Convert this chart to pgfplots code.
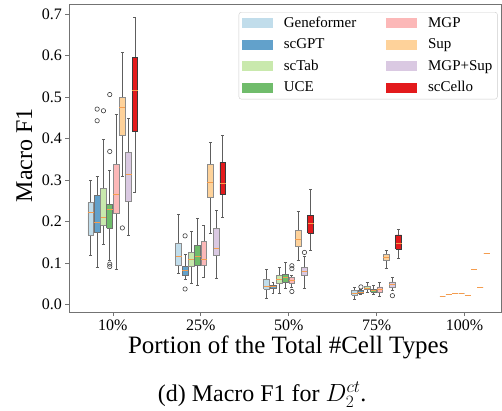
\documentclass[border=0pt]{standalone}
\usepackage{pgfplots}
\pgfplotsset{compat=1.18}
\usepackage{fontspec}
\setmainfont{Liberation Serif}

% Paired colours, alpha 0.7 on white (scCello opaque)
\definecolor{c0}{HTML}{C1DDEB}
\definecolor{c1}{HTML}{62A1CB}
\definecolor{c2}{HTML}{C9E9AD}
\definecolor{c3}{HTML}{70BC6B}
\definecolor{c4}{HTML}{FCB8B8}
\definecolor{c5}{HTML}{FED29A}
\definecolor{c6}{HTML}{DAC9E2}
\definecolor{c7}{HTML}{E31A1C}
\definecolor{e0}{HTML}{8C8C8C}
\definecolor{e1}{HTML}{707070}
\definecolor{e2}{HTML}{8C8C8C}
\definecolor{e3}{HTML}{707070}
\definecolor{e4}{HTML}{8C8C8C}
\definecolor{e5}{HTML}{8C8C8C}
\definecolor{e6}{HTML}{8C8C8C}
\definecolor{e7}{HTML}{3A3A3A}
\definecolor{medc}{HTML}{F59D4E}
\definecolor{whisk}{HTML}{5E5E5E}

% \onebox{group}{method}{lower whisker}{lower quartile}{median}{upper quartile}{upper whisker}
\newcommand{\onebox}[7]{%
  \pgfmathsetmacro\bxc{#1+(#2-3.5)*0.0716}%
  \pgfmathsetmacro\bxl{\bxc-0.033}\pgfmathsetmacro\bxr{\bxc+0.033}%
  \pgfmathsetmacro\capl{\bxc-0.017}\pgfmathsetmacro\capr{\bxc+0.017}%
  \addplot[whisk, line width=0.8pt] coordinates {(\bxc,#3) (\bxc,#4)};
  \addplot[whisk, line width=0.8pt] coordinates {(\bxc,#6) (\bxc,#7)};
  \addplot[whisk, line width=0.8pt] coordinates {(\capl,#3) (\capr,#3)};
  \addplot[whisk, line width=0.8pt] coordinates {(\capl,#7) (\capr,#7)};
  \addplot[fill=c#2, draw=e#2, line width=0.8pt] coordinates {(\bxl,#4) (\bxr,#4) (\bxr,#6) (\bxl,#6) (\bxl,#4)};
  \addplot[medc, line width=0.9pt] coordinates {(\bxl,#5) (\bxr,#5)};}
% \outl{group}{method}{outlier value}
\newcommand{\outl}[3]{%
  \pgfmathsetmacro\bxc{#1+(#2-3.5)*0.0716}%
  \addplot[only marks, mark=o, mark size=2.2pt, mark options={draw=black!75, line width=0.6pt}]
    coordinates {(\bxc,#3)};}

\begin{document}
\begin{tikzpicture}
\begin{axis}[
  at={(0pt,0pt)}, anchor=south west,
  scale only axis, width=433pt, height=309pt,
  xmin=0.5, xmax=5.42, ymin=-0.019, ymax=0.724,
  xtick={1,2,3,4,5},
  xticklabels={10\%,25\%,50\%,75\%,100\%},
  ytick={0,0.1,0.2,0.3,0.4,0.5,0.6,0.7},
  yticklabel style={/pgf/number format/fixed, /pgf/number format/precision=1, /pgf/number format/fixed zerofill},
  /pgf/number format/assume math mode=true,
  tick label style={font=\fontsize{16}{19}\selectfont},
  tick align=outside, major tick length=3.5pt,
  tick style={draw=black!55, line width=0.7pt},
  xtick pos=bottom, ytick pos=left,
  axis line style={draw=black!55, line width=0.8pt},
  ylabel={Macro F1},
  ylabel style={font=\fontsize{24}{28}\selectfont, at={(axis description cs:-0.103,0.51)}, anchor=center},
  xlabel={Portion of the Total \#Cell Types},
  xlabel style={font=\fontsize{25}{29}\selectfont, at={(axis description cs:0.507,0)}, anchor=base, yshift=-41pt},
  legend columns=2, legend cell align=left,
  legend image code/.code={\fill[#1, sharp corners, draw=none, fill opacity=1] (0pt,-5pt) rectangle (31pt,5pt);},
  legend style={at={(axis description cs:0.991,0.974)}, anchor=north east,
    font=\fontsize{15}{18}\selectfont, draw=black!20, rounded corners=2.5pt,
    fill=white, fill opacity=0.85, text opacity=1,
    nodes={inner sep=2pt, text height=11pt, text depth=3.5pt}, row sep=3pt,
    /tikz/every even column/.append style={column sep=28pt},
    /tikz/every odd column/.append style={column sep=9pt}},
]
\addlegendimage{fill=c0}\addlegendentry{Geneformer}
\addlegendimage{fill=c4}\addlegendentry{MGP}
\addlegendimage{fill=c1}\addlegendentry{scGPT}
\addlegendimage{fill=c5}\addlegendentry{Sup}
\addlegendimage{fill=c2}\addlegendentry{scTab}
\addlegendimage{fill=c6}\addlegendentry{MGP+Sup}
\addlegendimage{fill=c3}\addlegendentry{UCE}
\addlegendimage{fill=c7}\addlegendentry{scCello}

% 10%
\onebox{1}{0}{0.119}{0.168}{0.223}{0.246}{0.300}
\onebox{1}{1}{0.091}{0.175}{0.198}{0.263}{0.310}
\onebox{1}{2}{0.146}{0.192}{0.211}{0.280}{0.399}
\onebox{1}{3}{0.108}{0.184}{0.229}{0.241}{0.324}
\onebox{1}{4}{0.086}{0.219}{0.266}{0.338}{0.459}
\onebox{1}{5}{0.309}{0.407}{0.476}{0.500}{0.607}
\onebox{1}{6}{0.168}{0.248}{0.314}{0.366}{0.449}
\onebox{1}{7}{0.271}{0.417}{0.515}{0.596}{0.691}
\outl{1}{1}{0.471}
\outl{1}{1}{0.443}
\outl{1}{2}{0.467}
\outl{1}{3}{0.506}
\outl{1}{3}{0.369}
\outl{1}{3}{0.098}
\outl{1}{3}{0.092}
\outl{1}{5}{0.185}
% 25%
\onebox{2}{0}{0.076}{0.094}{0.117}{0.148}{0.217}
\onebox{2}{1}{0.060}{0.071}{0.083}{0.092}{0.121}
\onebox{2}{2}{0.051}{0.092}{0.110}{0.127}{0.177}
\onebox{2}{3}{0.046}{0.094}{0.117}{0.143}{0.208}
\onebox{2}{4}{0.067}{0.094}{0.108}{0.152}{0.190}
\onebox{2}{5}{0.172}{0.258}{0.295}{0.337}{0.390}
\onebox{2}{6}{0.064}{0.118}{0.135}{0.184}{0.228}
\onebox{2}{7}{0.211}{0.266}{0.293}{0.343}{0.407}
\outl{2}{1}{0.166}
\outl{2}{1}{0.038}
% 50%
\onebox{3}{0}{0.016}{0.038}{0.043}{0.062}{0.086}
\onebox{3}{1}{0.028}{0.039}{0.043}{0.046}{0.054}
\onebox{3}{2}{0.028}{0.052}{0.062}{0.070}{0.091}
\onebox{3}{3}{0.040}{0.055}{0.065}{0.073}{0.103}
\onebox{3}{4}{0.043}{0.052}{0.058}{0.065}{0.070}
\onebox{3}{5}{0.107}{0.140}{0.158}{0.180}{0.224}
\onebox{3}{6}{0.040}{0.070}{0.080}{0.090}{0.116}
\onebox{3}{7}{0.130}{0.172}{0.195}{0.216}{0.277}
\outl{3}{4}{0.094}
\outl{3}{4}{0.087}
\outl{3}{4}{0.032}
\outl{3}{6}{0.126}
% 75%
\onebox{4}{0}{0.014}{0.023}{0.028}{0.034}{0.042}
\onebox{4}{1}{0.026}{0.028}{0.030}{0.034}{0.036}
\onebox{4}{2}{0.030}{0.036}{0.040}{0.044}{0.055}
\onebox{4}{3}{0.026}{0.031}{0.034}{0.038}{0.046}
\onebox{4}{4}{0.019}{0.031}{0.038}{0.043}{0.055}
\onebox{4}{5}{0.088}{0.108}{0.115}{0.122}{0.131}
\onebox{4}{6}{0.035}{0.043}{0.050}{0.055}{0.067}
\onebox{4}{7}{0.112}{0.134}{0.148}{0.168}{0.182}
\outl{4}{1}{0.043}
\outl{4}{6}{0.022}
% 100% (single run: all statistics equal)
\onebox{5}{0}{0.020}{0.020}{0.020}{0.020}{0.020}
\onebox{5}{1}{0.025}{0.025}{0.025}{0.025}{0.025}
\onebox{5}{2}{0.027}{0.027}{0.027}{0.027}{0.027}
\onebox{5}{3}{0.027}{0.027}{0.027}{0.027}{0.027}
\onebox{5}{4}{0.022}{0.022}{0.022}{0.022}{0.022}
\onebox{5}{5}{0.086}{0.086}{0.086}{0.086}{0.086}
\onebox{5}{6}{0.042}{0.042}{0.042}{0.042}{0.042}
\onebox{5}{7}{0.124}{0.124}{0.124}{0.124}{0.124}
\end{axis}
\node[anchor=base, font=\fontsize{24}{28}\selectfont] at (193.4pt,-88.7pt) {(d) Macro F1 for $D_2^{ct}$.};
\pgfresetboundingbox
\path[use as bounding box] (-69pt,-98pt) rectangle (433.5pt,313pt);
\end{tikzpicture}
\end{document}
